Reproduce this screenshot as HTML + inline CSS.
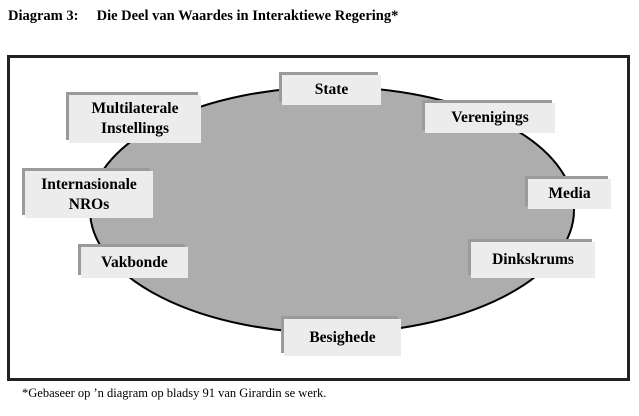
<!DOCTYPE html>
<html><head><style>
body{margin:0;width:639px;height:416px;background:#fff;position:relative;overflow:hidden;font-family:"Liberation Serif",serif}
.t{position:absolute;left:8px;top:8px;font-size:14.5px;font-weight:bold}
.f{position:absolute;left:22px;top:386px;font-size:12.5px}
.frame{position:absolute;left:7px;top:55px;width:617px;height:320px;border:3px solid #222}
.b{position:absolute;background:#ececec;font-weight:bold;font-size:15.5px;display:flex;align-items:center;justify-content:center;text-align:center;line-height:20px;box-shadow:-3px -3px 0 #9a9a9a}
</style></head><body>
<div class="t">Diagram 3:&nbsp;&nbsp;&nbsp;&nbsp; Die Deel van Waardes in Interaktiewe Regering*</div>
<div class="frame"></div>
<svg style="position:absolute;left:0;top:0" width="639" height="416"><ellipse cx="332" cy="210" rx="242" ry="123" fill="#adadad" stroke="#000" stroke-width="2"/></svg>
<div class="b" style="left:282px;top:75px;width:99px;height:30px">State</div>
<div class="b" style="left:425px;top:103px;width:130px;height:30px">Verenigings</div>
<div class="b" style="left:69px;top:95px;width:132px;height:48px">Multilaterale<br>Instellings</div>
<div class="b" style="left:25px;top:171px;width:128px;height:47px">Internasionale<br>NROs</div>
<div class="b" style="left:528px;top:179px;width:83px;height:30px">Media</div>
<div class="b" style="left:81px;top:247px;width:107px;height:31px">Vakbonde</div>
<div class="b" style="left:471px;top:242px;width:124px;height:36px">Dinkskrums</div>
<div class="b" style="left:284px;top:319px;width:117px;height:37px">Besighede</div>
<div class="f">*Gebaseer op ’n diagram op bladsy 91 van Girardin se werk.</div>
</body></html>
